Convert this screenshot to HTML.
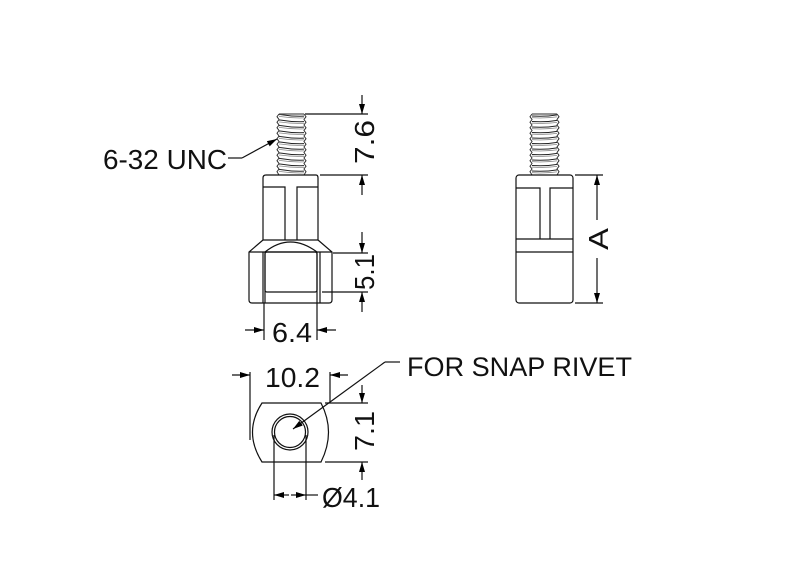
<!DOCTYPE html>
<html><head><style>html,body{margin:0;padding:0;background:#fff}svg{display:block}</style></head>
<body>
<svg width="800" height="576" viewBox="0 0 800 576" xmlns="http://www.w3.org/2000/svg" font-family="Liberation Sans, Arial, sans-serif">
<defs>
<marker id="ar" markerWidth="10" markerHeight="6" refX="10" refY="3" orient="auto" markerUnits="userSpaceOnUse"><path d="M0,0 L10,3 L0,6 z" fill="#000"/></marker>
<pattern id="th" x="0" y="113" width="40" height="5.5" patternUnits="userSpaceOnUse"><path d="M0,1.5 Q20,5 40,1.5" stroke="#222" fill="none" stroke-width="1.1"/><path d="M0,3.5 Q20,6.5 40,3.5" stroke="#888" fill="none" stroke-width="0.7"/></pattern>
</defs>
<g stroke="#111" stroke-width="1.2" fill="none">
<!-- Left view thread -->
<rect x="279" y="114" width="25" height="61" fill="url(#th)" stroke="none"/>
<path d="M279,114 H304" stroke="#555"/>
<polyline stroke="#333" stroke-width="1" points="279,114 277,116.7 279,119.5 277,122.2 279,125 277,127.7 279,130.5 277,133.2 279,136 277,138.7 279,141.5 277,144.2 279,147 277,149.7 279,152.5 277,155.2 279,158 277,160.7 279,163.5 277,166.2 279,169 277,171.7 279,175"/>
<polyline stroke="#333" stroke-width="1" points="304,114 306,116.7 304,119.5 306,122.2 304,125 306,127.7 304,130.5 306,133.2 304,136 306,138.7 304,141.5 306,144.2 304,147 306,149.7 304,152.5 306,155.2 304,158 306,160.7 304,163.5 306,166.2 304,169 306,171.7 304,175"/>
<!-- upper body -->
<path d="M266,175 H316 Q318,175 318,178 V240 H263 V178 Q263,175 266,175 Z"/>
<path d="M263,187 H285 V240 M318,187 H297 V240"/>
<!-- hex -->
<path d="M263,240 L249,252 V300 Q249,303 252,303 H329 Q332,303 332,300 V252 L318,240"/>
<path d="M249,252 H332 M263,252 V303 M265,252 V303 M317,252 V303 M320,252 V303"/>
<path d="M265,252 Q290,232 317,252"/>
<rect x="265" y="252" width="52" height="40" rx="2"/>
<!-- dims -->
<path d="M305,114 H368 M320,175 H368 M333,253 H368 M322,292 H368"/>
<line x1="362" y1="95" x2="362" y2="114" marker-end="url(#ar)"/>
<line x1="362" y1="195" x2="362" y2="175" marker-end="url(#ar)"/>
<line x1="362" y1="232" x2="362" y2="253" marker-end="url(#ar)"/>
<line x1="362" y1="312" x2="362" y2="292" marker-end="url(#ar)"/>
<!-- 6.4 -->
<path d="M264,303 V340 M317,303 V340"/>
<line x1="245" y1="330" x2="264" y2="330" marker-end="url(#ar)"/>
<line x1="336" y1="330" x2="317" y2="330" marker-end="url(#ar)"/>
<!-- 6-32 leader -->
<path d="M228,158 H242"/>
<line x1="242" y1="158" x2="277" y2="139" marker-end="url(#ar)"/>
<!-- Right view -->
<rect x="532" y="114" width="25" height="61" fill="url(#th)" stroke="none"/>
<path d="M532,114 H557" stroke="#555"/>
<polyline stroke="#333" stroke-width="1" points="532,114 530,116.7 532,119.5 530,122.2 532,125 530,127.7 532,130.5 530,133.2 532,136 530,138.7 532,141.5 530,144.2 532,147 530,149.7 532,152.5 530,155.2 532,158 530,160.7 532,163.5 530,166.2 532,169 530,171.7 532,175"/>
<polyline stroke="#333" stroke-width="1" points="557,114 559,116.7 557,119.5 559,122.2 557,125 559,127.7 557,130.5 559,133.2 557,136 559,138.7 557,141.5 559,144.2 557,147 559,149.7 557,152.5 559,155.2 557,158 559,160.7 557,163.5 559,166.2 557,169 559,171.7 557,175"/>
<rect x="516" y="175" width="57" height="128" rx="3"/>
<path d="M516,188 H540 V239 M573,188 H550 V239 M516,239 H573 M516,252 H573"/>
<path d="M575,175 H603 M575,303 H603"/>
<line x1="597" y1="220" x2="597" y2="175" marker-end="url(#ar)"/>
<line x1="597" y1="258" x2="597" y2="303" marker-end="url(#ar)"/>
<!-- Bottom view -->
<path d="M262,403 H321 Q336,432 321,462 H262 Q243,432 262,403 Z"/>
<circle cx="290" cy="432" r="18"/>
<circle cx="290" cy="432" r="15.5"/>
<path d="M250,372 V440 M330,372 V403"/>
<line x1="232" y1="375" x2="250" y2="375" marker-end="url(#ar)"/>
<line x1="348" y1="375" x2="330" y2="375" marker-end="url(#ar)"/>
<path d="M325,403 H368 M325,462 H368"/>
<line x1="362" y1="385" x2="362" y2="403" marker-end="url(#ar)"/>
<line x1="362" y1="480" x2="362" y2="462" marker-end="url(#ar)"/>
<path d="M274,435 V500 M306,435 V500"/>
<line x1="289" y1="495" x2="274" y2="495" marker-end="url(#ar)"/>
<line x1="291" y1="495" x2="306" y2="495" marker-end="url(#ar)"/>
<path d="M306,495 H318"/>
<path d="M400,362 H385"/>
<line x1="385" y1="362" x2="293" y2="429" marker-end="url(#ar)"/>
</g>
<g fill="#111" font-size="28">
<text x="103" y="169" textLength="124" lengthAdjust="spacingAndGlyphs">6-32 UNC</text>
<text x="272" y="342" textLength="40" lengthAdjust="spacingAndGlyphs">6.4</text>
<text x="265" y="387" textLength="55" lengthAdjust="spacingAndGlyphs">10.2</text>
<text x="322" y="507" textLength="58" lengthAdjust="spacingAndGlyphs">Ø4.1</text>
<text x="407" y="376" font-size="27" textLength="225" lengthAdjust="spacingAndGlyphs">FOR SNAP RIVET</text>
<text transform="translate(374,164) rotate(-90)" textLength="44" lengthAdjust="spacingAndGlyphs">7.6</text>
<text transform="translate(374,290) rotate(-90)" textLength="36" lengthAdjust="spacingAndGlyphs">5.1</text>
<text transform="translate(374,451) rotate(-90)" textLength="40" lengthAdjust="spacingAndGlyphs">7.1</text>
<text transform="translate(608,250) rotate(-90)" textLength="22" lengthAdjust="spacingAndGlyphs">A</text>
</g>
</svg>
</body></html>
